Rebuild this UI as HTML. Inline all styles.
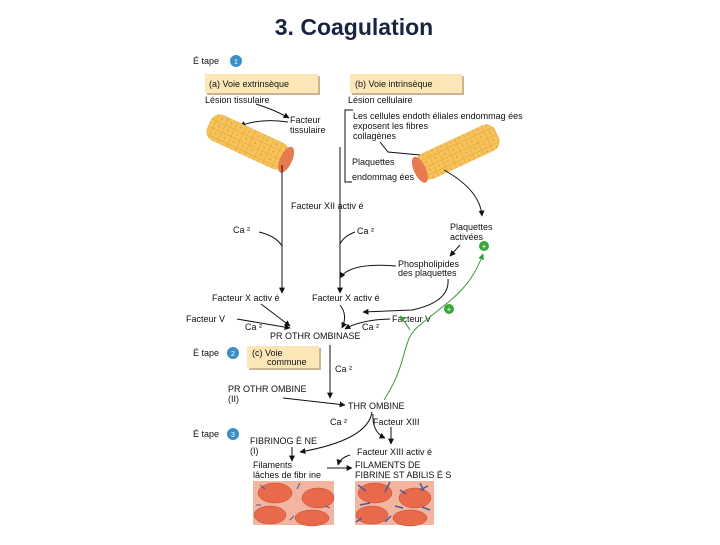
<!DOCTYPE html>
<html><head><meta charset="utf-8"><style>
body{margin:0;background:#fff;width:720px;height:540px;overflow:hidden}
svg text{font-family:"Liberation Sans",sans-serif;font-size:9px;fill:#111}
</style></head><body>
<svg width="720" height="540" xmlns="http://www.w3.org/2000/svg">
<defs>
<marker id="a" viewBox="0 0 10 10" refX="9" refY="5" markerWidth="6" markerHeight="6" orient="auto"><path d="M0,0L10,5L0,10z" fill="#111"/></marker>
<marker id="g" viewBox="0 0 10 10" refX="9" refY="5" markerWidth="6" markerHeight="6" orient="auto"><path d="M0,0L10,5L0,10z" fill="#3a9a3a"/></marker>
<pattern id="ves" width="10" height="8" patternUnits="userSpaceOnUse"><rect width="10" height="8" fill="#f6c35a"/><path d="M0,0H10M0,0V8" stroke="#e0a030" stroke-width="1"/><circle cx="5" cy="4" r="1" fill="#e89a60"/></pattern>
</defs>
<text x="354" y="35" text-anchor="middle" style="font-size:23px;font-weight:bold;fill:#1a2440">3. Coagulation</text>

<text x="193" y="64">É tape</text><circle cx="236" cy="61" r="6" fill="#3a8fc8"/><text x="236" y="64" text-anchor="middle" style="fill:#fff;font-size:7px">1</text>
<rect x="207" y="76" width="113" height="19" fill="#c9b690"/><rect x="205" y="74" width="113" height="19" fill="#fbe6b8"/>
<text x="209" y="87">(a) Voie extrinsèque</text>
<rect x="352" y="76" width="112" height="19" fill="#c9b690"/><rect x="350" y="74" width="112" height="19" fill="#fbe6b8"/>
<text x="355" y="87">(b) Voie intrinsèque</text>
<text x="205" y="103">Lésion tissulaire</text>
<text x="348" y="103">Lésion cellulaire</text>
<text x="290" y="123">Facteur</text><text x="290" y="133">tissulaire</text>
<path d="M256,104 Q275,110 289,118" stroke="#111" fill="none" marker-end="url(#a)"/>
<path d="M288,122 Q260,118 240,126" stroke="#111" fill="none" marker-end="url(#a)"/>

<g transform="rotate(25 248 142)"><rect x="205" y="128" width="86" height="28" rx="10" fill="url(#ves)"/><ellipse cx="290" cy="142" rx="6" ry="14" fill="#e87a50"/></g>
<g transform="rotate(-25 458 152)"><rect x="415" y="138" width="86" height="28" rx="10" fill="url(#ves)"/><ellipse cx="416" cy="152" rx="6" ry="14" fill="#e87a50"/></g>

<text x="353" y="119">Les cellules endoth   éliales endommag ées</text>
<text x="353" y="129">exposent les fibres</text>
<text x="353" y="139">collagènes</text>
<path d="M380,142 L388,152 L420,155" stroke="#111" fill="none"/>
<text x="352" y="165">Plaquettes</text>
<text x="352" y="180">endommag ées</text>
<path d="M353,110 H345 V182 H352" stroke="#111" fill="none"/>
<path d="M444,170 Q480,190 482,216" stroke="#111" fill="none" marker-end="url(#a)"/>

<line x1="282" y1="165" x2="282" y2="293" stroke="#111" marker-end="url(#a)"/>
<line x1="340" y1="147" x2="340" y2="293" stroke="#111" marker-end="url(#a)"/>
<text x="291" y="209">Facteur XII activ   é</text>
<text x="233" y="233">Ca ²</text><path d="M259,232 Q276,236 282,246" stroke="#111" fill="none"/>
<text x="357" y="234">Ca ²</text><path d="M355,232 Q344,236 340,244" stroke="#111" fill="none"/>
<text x="450" y="230">Plaquettes</text><text x="450" y="240">activées</text>
<circle cx="484" cy="246" r="5" fill="#3aa63a"/><text x="484" y="249" text-anchor="middle" style="fill:#fff;font-size:8px">+</text>
<text x="398" y="267">Phospholipides</text><text x="398" y="276">des plaquettes</text>
<path d="M460,245 L450,256" stroke="#111" marker-end="url(#a)"/>
<path d="M396,266 Q350,262 340,278" stroke="#111" fill="none" marker-end="url(#a)"/>
<path d="M448,279 Q450,302 412,310 L363,312" stroke="#111" fill="none" marker-end="url(#a)"/>
<text x="212" y="301">Facteur X activ  é</text>
<text x="312" y="301">Facteur X activ  é</text>
<text x="186" y="322">Facteur V</text>
<text x="245" y="330">Ca ²</text>
<text x="362" y="330">Ca ²</text>
<text x="392" y="322">Facteur V</text>
<circle cx="449" cy="309" r="5" fill="#3aa63a"/><text x="449" y="312" text-anchor="middle" style="fill:#fff;font-size:8px">+</text>
<path d="M237,319 L290,328" stroke="#111" marker-end="url(#a)"/>
<path d="M261,304 L290,326" stroke="#111" marker-end="url(#a)"/>
<path d="M340,305 Q348,315 342,328" stroke="#111" fill="none" marker-end="url(#a)"/>
<path d="M390,319 Q360,320 345,329" stroke="#111" fill="none" marker-end="url(#a)"/>
<text x="270" y="339">PR OTHR  OMBINASE</text>

<text x="193" y="356">É tape</text><circle cx="233" cy="353" r="6" fill="#3a8fc8"/><text x="233" y="356" text-anchor="middle" style="fill:#fff;font-size:7px">2</text>
<rect x="249" y="348" width="72" height="22" fill="#c9b690"/><rect x="247" y="346" width="72" height="22" fill="#fbe6b8"/>
<text x="252" y="356">(c) Voie</text><text x="267" y="365">commune</text>
<line x1="330" y1="345" x2="330" y2="398" stroke="#111" marker-end="url(#a)"/>
<text x="335" y="372">Ca ²</text>
<text x="228" y="392">PR OTHR  OMBINE</text><text x="228" y="402">(II)</text>
<path d="M283,398 L345,405" stroke="#111" marker-end="url(#a)"/>
<text x="348" y="409">THR  OMBINE</text>

<path d="M384,400 C410,360 400,340 420,325 C450,300 470,290 483,254" stroke="#3a9a3a" fill="none" marker-end="url(#g)"/>
<path d="M410,330 Q405,322 400,316" stroke="#3a9a3a" fill="none" marker-end="url(#g)"/>

<text x="330" y="425">Ca ²</text><text x="373" y="425">Facteur XIII</text>
<path d="M372,412 Q368,440 300,452" stroke="#111" fill="none" marker-end="url(#a)"/>
<path d="M373,414 Q372,432 385,438" stroke="#111" fill="none" marker-end="url(#a)"/>
<line x1="391" y1="427" x2="391" y2="444" stroke="#111" marker-end="url(#a)"/>
<text x="193" y="437">É tape</text><circle cx="233" cy="434" r="6" fill="#3a8fc8"/><text x="233" y="437" text-anchor="middle" style="fill:#fff;font-size:7px">3</text>
<text x="250" y="444">FIBRINOG    È NE</text><text x="250" y="454">(I)</text>
<line x1="292" y1="447" x2="292" y2="461" stroke="#111" marker-end="url(#a)"/>
<text x="357" y="455">Facteur XIII activ   é</text>
<text x="253" y="468">Filaments</text><text x="253" y="478">lâches de fibr  ine</text>
<text x="355" y="468">FILAMENTS DE</text><text x="355" y="478">FIBRINE ST     ABILIS  É S</text>
<path d="M327,468 L352,468" stroke="#111" marker-end="url(#a)"/>
<path d="M350,455 Q340,458 338,465" stroke="#111" fill="none" marker-end="url(#a)"/>

<rect x="253" y="481" width="81" height="44" fill="#f4b5a0"/>
<g fill="#e86a4a" stroke="#b84a30" stroke-width="0.5">
<ellipse cx="275" cy="493" rx="17" ry="10"/><ellipse cx="318" cy="498" rx="16" ry="10"/><ellipse cx="270" cy="515" rx="16" ry="9"/><ellipse cx="312" cy="518" rx="17" ry="8"/></g>
<rect x="355" y="481" width="79" height="44" fill="#f4b5a0"/>
<g fill="#e86a4a" stroke="#b84a30" stroke-width="0.5">
<ellipse cx="375" cy="493" rx="17" ry="10"/><ellipse cx="415" cy="498" rx="16" ry="10"/><ellipse cx="372" cy="515" rx="16" ry="9"/><ellipse cx="410" cy="518" rx="17" ry="8"/></g>
<g stroke="#4a5a9a" stroke-width="1.5">
<path d="M358,485 l8,6 M390,482 l-5,10 M428,486 l-8,4 M360,505 l10,-2 M395,506 l8,2 M430,510 l-8,-3 M385,522 l6,-6 M356,522 l6,-4 M420,483 l4,8 M400,490 l6,4"/>
<path d="M260,485 l5,4 M300,483 l-3,6 M330,508 l-5,-2 M290,520 l4,-4 M256,505 l5,0" stroke-width="1"/>
</g>
</svg>
</body></html>
